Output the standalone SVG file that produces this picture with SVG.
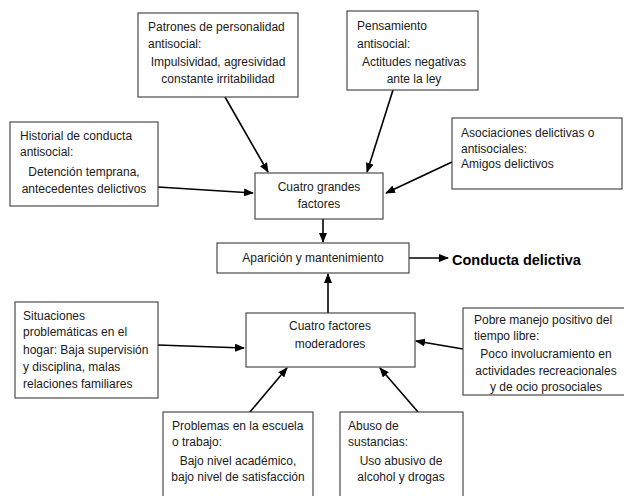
<svg xmlns="http://www.w3.org/2000/svg" width="624" height="496" viewBox="0 0 624 496">
  <style>
    .box { fill: #ffffff; stroke: #3a3a3a; stroke-width: 1.1; }
    .t { font-family: "Liberation Sans", Arial, sans-serif; font-size: 12px; fill: #1a1a1a; }
    .c { text-anchor: middle; }
    .link { stroke: #000000; stroke-width: 1.6; fill: none; marker-end: url(#head); }
    .out { font-family: "Liberation Sans", Arial, sans-serif; font-size: 14.5px; font-weight: bold; fill: #000000; }
  </style>
  <defs>
    <marker id="head" markerUnits="userSpaceOnUse" markerWidth="10" markerHeight="8" refX="9" refY="4" orient="auto">
      <path d="M0,0 L10,4 L0,8 Z" fill="#000000"/>
    </marker>
  </defs>
  <rect width="624" height="496" fill="#ffffff"/>

  <g id="connectors">
    <line class="link" x1="225" y1="97" x2="268" y2="172"/>
    <line class="link" x1="393" y1="90" x2="367" y2="172"/>
    <line class="link" x1="158" y1="187" x2="253" y2="193"/>
    <line class="link" x1="452" y1="162" x2="386" y2="193"/>
    <line class="link" x1="323" y1="219" x2="323" y2="242"/>
    <line class="link" x1="409" y1="258" x2="448" y2="258"/>
    <line class="link" x1="328" y1="313" x2="328" y2="274"/>
    <line class="link" x1="158" y1="345" x2="244" y2="348"/>
    <line class="link" x1="463" y1="349" x2="416" y2="341"/>
    <line class="link" x1="250" y1="412" x2="287" y2="368"/>
    <line class="link" x1="418" y1="412" x2="380" y2="368"/>
  </g>

  <g id="patrones">
    <rect class="box" x="138" y="13" width="160" height="84"/>
    <text class="t" x="148" y="31">Patrones de personalidad</text>
    <text class="t" x="148" y="48">antisocial:</text>
    <text class="t c" x="218" y="66">Impulsividad, agresividad</text>
    <text class="t c" x="218" y="83">constante irritabilidad</text>
  </g>

  <g id="pensamiento">
    <rect class="box" x="347" y="11" width="131" height="79"/>
    <text class="t" x="357" y="30">Pensamiento</text>
    <text class="t" x="357" y="48">antisocial:</text>
    <text class="t c" x="414" y="66">Actitudes negativas</text>
    <text class="t c" x="414" y="83">ante la ley</text>
  </g>

  <g id="historial">
    <rect class="box" x="10" y="122" width="148" height="84"/>
    <text class="t" x="20" y="140">Historial de conducta</text>
    <text class="t" x="20" y="156">antisocial:</text>
    <text class="t c" x="84" y="176">Detención temprana,</text>
    <text class="t c" x="84" y="193">antecedentes delictivos</text>
  </g>

  <g id="asociaciones">
    <rect class="box" x="452" y="118" width="170" height="71"/>
    <text class="t" x="461" y="137">Asociaciones delictivas o</text>
    <text class="t" x="461" y="153">antisociales:</text>
    <text class="t" x="461" y="168">Amigos delictivos</text>
  </g>

  <g id="cuatro-grandes">
    <rect class="box" x="255" y="173" width="128" height="46"/>
    <text class="t c" x="319" y="191">Cuatro grandes</text>
    <text class="t c" x="319" y="208">factores</text>
  </g>

  <g id="aparicion">
    <rect class="box" x="217" y="243" width="192" height="30"/>
    <text class="t c" x="313" y="262">Aparición y mantenimiento</text>
  </g>

  <g id="conducta">
    <text class="out" x="452" y="265">Conducta delictiva</text>
  </g>

  <g id="cuatro-moderadores">
    <rect class="box" x="246" y="313" width="169" height="54"/>
    <text class="t c" x="330" y="330">Cuatro factores</text>
    <text class="t c" x="330" y="348">moderadores</text>
  </g>

  <g id="situaciones">
    <rect class="box" x="15" y="302" width="143" height="96"/>
    <text class="t" x="23" y="320">Situaciones</text>
    <text class="t" x="23" y="336">problemáticas en el</text>
    <text class="t" x="23" y="354">hogar: Baja supervisión</text>
    <text class="t" x="23" y="371">y disciplina, malas</text>
    <text class="t" x="23" y="388">relaciones familiares</text>
  </g>

  <g id="tiempo-libre">
    <rect class="box" x="463" y="308" width="167" height="87"/>
    <text class="t" x="474" y="324">Pobre manejo positivo del</text>
    <text class="t" x="474" y="340">tiempo libre:</text>
    <text class="t c" x="546" y="358">Poco involucramiento en</text>
    <text class="t c" x="546" y="375">actividades recreacionales</text>
    <text class="t c" x="546" y="391">y de ocio prosociales</text>
  </g>

  <g id="escuela">
    <rect class="box" x="163" y="412" width="150" height="90"/>
    <text class="t" x="172" y="430">Problemas en la escuela</text>
    <text class="t" x="172" y="446">o trabajo:</text>
    <text class="t c" x="238" y="465">Bajo nivel académico,</text>
    <text class="t c" x="238" y="481">bajo nivel de satisfacción</text>
  </g>

  <g id="sustancias">
    <rect class="box" x="340" y="412" width="123" height="90"/>
    <text class="t" x="348" y="430">Abuso de</text>
    <text class="t" x="348" y="446">sustancias:</text>
    <text class="t c" x="401" y="465">Uso abusivo de</text>
    <text class="t c" x="401" y="481">alcohol y drogas</text>
  </g>
</svg>
